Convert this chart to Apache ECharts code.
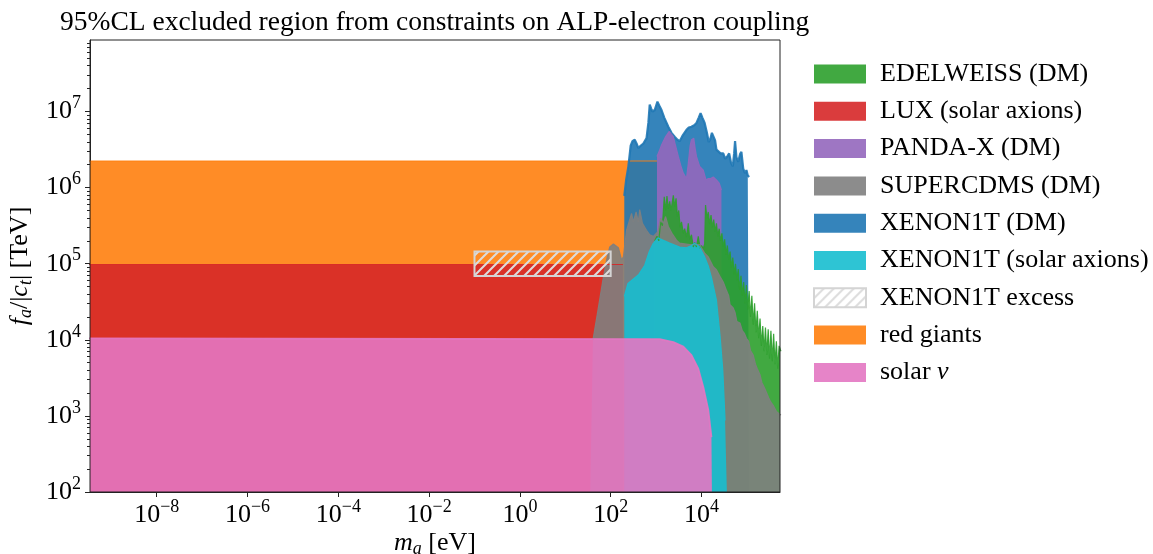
<!DOCTYPE html>
<html>
<head>
<meta charset="utf-8">
<script src="https://cdn.jsdelivr.net/npm/echarts@6/dist/echarts.min.js"></script>
<style>
  html, body { margin: 0; padding: 0; background: #fff; }
  #chart { width: 1153px; height: 554px; }
</style>
</head>
<body>
<div id="chart"></div>
<script>
  // every point is [log10(m_a / eV), log10(f_a/|c_t| / TeV)]
  const redGiants = [[-9.6, 6.35], [3.02, 6.35], [3.02, 2.0]];
  const lux = [[-9.6, 4.99], [2.27, 4.99], [2.27, 2.0]];
  const xenonDm = [[2.30, 2.0], [2.30, 5.89], [2.34, 6.10], [2.39, 6.28], [2.44, 6.55], [2.48, 6.61], [2.53, 6.63],
    [2.57, 6.58], [2.61, 6.52], [2.66, 6.55], [2.72, 6.58], [2.79, 6.65], [2.83, 6.85], [2.86, 7.09], [2.89, 7.04],
    [2.92, 7.00], [2.97, 7.02], [3.03, 7.13], [3.07, 7.08], [3.12, 7.02], [3.18, 6.92], [3.27, 6.80], [3.34, 6.72],
    [3.41, 6.67], [3.47, 6.63], [3.52, 6.61], [3.58, 6.68], [3.67, 6.76], [3.72, 6.79], [3.78, 6.80], [3.84, 6.82],
    [3.89, 6.85], [3.94, 6.92], [3.98, 6.98], [4.02, 6.92], [4.07, 6.85], [4.12, 6.72], [4.16, 6.60], [4.19, 6.63],
    [4.23, 6.72], [4.26, 6.74], [4.30, 6.62], [4.33, 6.50], [4.37, 6.52], [4.42, 6.45], [4.48, 6.45], [4.52, 6.38],
    [4.55, 6.36], [4.58, 6.42], [4.61, 6.45], [4.65, 6.33], [4.69, 6.28], [4.72, 6.45], [4.74, 6.61], [4.77, 6.40],
    [4.81, 6.34], [4.85, 6.44], [4.88, 6.47], [4.92, 6.25], [4.96, 6.19], [4.99, 6.23], [5.02, 6.16], [5.05, 6.14],
    [5.05, 2.0]];
  const pandaX = [[3.02, 2.0], [3.02, 6.41], [3.07, 6.48], [3.12, 6.56], [3.20, 6.66], [3.29, 6.74], [3.33, 6.72],
    [3.38, 6.67], [3.43, 6.55], [3.49, 6.41], [3.55, 6.28], [3.60, 6.19], [3.67, 6.12], [3.71, 6.32], [3.75, 6.55],
    [3.78, 6.63], [3.83, 6.65], [3.86, 6.52], [3.89, 6.41], [3.96, 6.28], [4.04, 6.23], [4.10, 6.10], [4.15, 6.12],
    [4.20, 6.12], [4.26, 6.14], [4.33, 6.10], [4.39, 6.06], [4.44, 5.97], [4.44, 2.0]];
  const edelweiss = [[2.97, 2.0], [2.97, 5.30], [3.02, 5.36], [3.06, 5.30], [3.10, 5.55], [3.14, 5.50], [3.18, 5.88],
    [3.21, 5.70], [3.24, 5.89], [3.27, 5.72], [3.30, 5.82], [3.33, 5.70], [3.38, 5.90], [3.41, 5.75], [3.44, 5.86],
    [3.47, 5.62], [3.50, 5.70], [3.53, 5.48], [3.56, 5.55], [3.60, 5.40], [3.63, 5.46], [3.67, 5.35], [3.71, 5.53],
    [3.74, 5.32], [3.78, 5.38], [3.82, 5.22], [3.85, 5.28], [3.89, 5.22], [3.93, 5.36], [3.97, 5.20], [4.00, 5.24],
    [4.04, 5.20], [4.07, 5.26], [4.09, 5.77], [4.12, 5.60], [4.15, 5.68], [4.18, 5.52], [4.21, 5.64], [4.24, 5.48],
    [4.27, 5.58], [4.30, 5.42], [4.33, 5.53], [4.36, 5.36], [4.39, 5.46], [4.42, 5.30], [4.45, 5.40], [4.48, 5.22],
    [4.51, 5.32], [4.54, 5.12], [4.57, 5.24], [4.60, 5.05], [4.63, 5.16], [4.66, 4.95], [4.69, 5.08], [4.72, 4.86],
    [4.75, 5.00], [4.78, 4.78], [4.81, 4.93], [4.84, 4.66], [4.87, 4.84], [4.90, 4.58], [4.93, 4.76], [4.96, 4.48],
    [4.99, 4.72], [5.02, 4.40], [5.05, 4.64], [5.08, 4.30], [5.11, 4.58], [5.14, 4.20], [5.17, 4.48], [5.20, 4.10],
    [5.23, 4.38], [5.26, 4.02], [5.29, 4.28], [5.32, 3.92], [5.35, 4.18], [5.38, 3.85], [5.41, 4.16], [5.44, 3.80],
    [5.47, 4.14], [5.50, 3.75], [5.53, 4.12], [5.56, 3.72], [5.59, 4.08], [5.62, 3.68], [5.65, 3.98], [5.68, 3.62],
    [5.71, 3.92], [5.75, 3.85]];
  const superCdms = [[1.55, 2.0], [1.61, 4.0], [1.72, 4.39], [1.83, 4.79], [1.92, 5.08], [1.98, 5.22], [2.06, 5.26],
    [2.17, 5.21], [2.24, 5.05], [2.28, 5.09], [2.35, 5.44], [2.46, 5.66], [2.50, 5.55], [2.56, 5.68], [2.61, 5.55],
    [2.64, 5.71], [2.70, 5.53], [2.79, 5.44], [2.86, 5.38], [2.94, 5.36], [3.04, 5.42], [3.10, 5.60], [3.16, 5.53],
    [3.21, 5.62], [3.27, 5.49], [3.35, 5.40], [3.45, 5.31], [3.52, 5.27], [3.74, 5.25], [3.96, 5.25], [4.07, 5.14],
    [4.15, 5.09], [4.26, 4.96], [4.33, 4.92], [4.41, 4.83], [4.48, 4.76], [4.55, 4.65], [4.60, 4.58], [4.63, 4.46],
    [4.70, 4.42], [4.74, 4.36], [4.78, 4.24], [4.85, 4.22], [4.90, 4.12], [4.95, 4.08], [4.99, 4.02], [5.04, 3.98],
    [5.08, 3.86], [5.14, 3.80], [5.19, 3.68], [5.23, 3.62], [5.29, 3.54], [5.33, 3.44], [5.38, 3.38], [5.43, 3.31],
    [5.48, 3.24], [5.53, 3.18], [5.58, 3.14], [5.65, 3.06], [5.75, 3.01]];
  const xenonSolar = [[2.30, 2.0], [2.30, 4.57], [2.38, 4.74], [2.50, 4.80], [2.62, 4.86], [2.75, 4.98], [2.85, 5.16],
    [2.93, 5.26], [3.04, 5.34], [3.15, 5.31], [3.30, 5.27], [3.52, 5.22], [3.67, 5.21], [3.78, 5.24], [3.85, 5.27],
    [3.96, 5.22], [4.07, 5.09], [4.15, 4.97], [4.22, 4.82], [4.33, 4.52], [4.41, 4.05], [4.47, 3.60], [4.52, 2.94],
    [4.56, 2.0]];
  const solarNu = [[-9.6, 4.02], [3.08, 4.01], [3.38, 3.97], [3.60, 3.91], [3.78, 3.80], [3.93, 3.62], [4.04, 3.38],
    [4.15, 3.08], [4.22, 2.72], [4.23, 2.0]];
  const xenonExcess = [[-1.0, 4.84], [2.0, 5.16]];

  const legendNames = ['EDELWEISS (DM)', 'LUX (solar axions)', 'PANDA-X (DM)', 'SUPERCDMS (DM)', 'XENON1T (DM)',
    'XENON1T (solar axions)', 'XENON1T excess', 'red giants', 'solar ν'];
  const xTicks = [-8, -6, -4, -2, 0, 2, 4];
  const yTicks = [2, 3, 4, 5, 6, 7];

  const F = 'Liberation Serif';
  const colors = {
    'EDELWEISS (DM)': '#2ca02c', 'LUX (solar axions)': '#d62728', 'PANDA-X (DM)': '#9467bd',
    'SUPERCDMS (DM)': '#7f7f7f', 'XENON1T (DM)': '#1f77b4', 'XENON1T (solar axions)': '#17becf',
    'red giants': '#ff7f0e', 'solar ν': '#e377c2'
  };

  // hatch for the excess box
  const hatch = document.createElement('canvas');
  hatch.width = 10; hatch.height = 10;
  let hc = hatch.getContext('2d');
  hc.strokeStyle = '#dcdcdc';
  hc.lineWidth = 2;
  hc.beginPath();
  hc.moveTo(-2, 12); hc.lineTo(12, -2);
  hc.moveTo(-7, 7); hc.lineTo(7, -7);
  hc.moveTo(3, 17); hc.lineTo(17, 3);
  hc.stroke();
  const hatchFill = { image: hatch, repeat: 'repeat' };

  function toVal(pts) {
    return pts.map(p => [Math.pow(10, p[0]), Math.pow(10, p[1])]);
  }

  // filled region, no stroke (the vertical drops should not be outlined)
  function band(name, pts) {
    let c = colors[name];
    return {
      name: name,
      type: 'line',
      data: toVal(pts),
      symbol: 'none',
      color: c,
      silent: true,
      lineStyle: { width: 0 },
      areaStyle: { color: c, opacity: 0.9, origin: 'start' },
      emphasis: { disabled: true }
    };
  }
  // top edge of the region only
  function edge(name, pts, lw) {
    let c = colors[name];
    return {
      type: 'line',
      data: toVal(pts.filter(p => p[1] > 2.0)),
      symbol: 'none',
      silent: true,
      lineStyle: { color: c, width: lw, opacity: 0.9 },
      emphasis: { disabled: true }
    };
  }
  function both(name, pts, lw) {
    return [band(name, pts), edge(name, pts, lw)];
  }

  let minorY = [];
  for (let n = 2; n <= 7; n++) {
    for (let k = 2; k <= 9; k++) {
      if (Math.log10(k) + n < 7.94) minorY.push(k * Math.pow(10, n));
    }
  }

  function powLabel(v) {
    let e = Math.round(Math.log10(v));
    return '{b|10}{sup|' + (e < 0 ? '\u2212' + (-e) : e) + '}';
  }
  const tickRich = {
    b: { fontFamily: F, fontSize: 26, color: '#000', lineHeight: 34 },
    sup: { fontFamily: F, fontSize: 18, color: '#000', verticalAlign: 'top', lineHeight: 18 }
  };
  const nameRich = {
    i: { fontFamily: F, fontSize: 26, fontStyle: 'italic', color: '#000', lineHeight: 30 },
    n: { fontFamily: F, fontSize: 26, color: '#000', lineHeight: 30 },
    sub: { fontFamily: F, fontSize: 18, fontStyle: 'italic', color: '#000', verticalAlign: 'bottom', lineHeight: 18 }
  };

  let chart = echarts.init(document.getElementById('chart'), null, { renderer: 'canvas' });
  chart.setOption({
    animation: false,
    backgroundColor: '#fff',
    title: {
      text: '95%CL excluded region from constraints on ALP-electron coupling',
      left: 55, top: 4,
      textStyle: { fontFamily: F, fontSize: 27.5, fontWeight: 'normal', color: '#000' }
    },
    grid: {
      left: 90, right: 373, top: 40, bottom: 62,
      outerBoundsMode: 'none',
      show: true, borderColor: '#222', borderWidth: 1, backgroundColor: 'transparent', z: 10
    },
    legend: {
      orient: 'vertical', left: 808, top: 56,
      itemWidth: 52, itemHeight: 19, itemGap: 11.3,
      selectedMode: false,
      icon: 'rect',
      itemStyle: { borderWidth: 0, opacity: 0.9 },
      textStyle: {
        fontFamily: F, fontSize: 26, color: '#000', lineHeight: 26, padding: [0, 0, 0, 9],
        rich: { i: { fontFamily: F, fontSize: 26, fontStyle: 'italic', color: '#000' } }
      },
      formatter: function (name) { return name === 'solar ν' ? 'solar {i|ν}' : name; },
      data: legendNames.map(function (n) {
        if (n === 'XENON1T excess') {
          return { name: n, icon: 'rect', itemStyle: { color: hatchFill, borderColor: '#d4d4d4', borderWidth: 2, opacity: 1 } };
        }
        return { name: n, icon: 'rect', itemStyle: { color: colors[n], opacity: 0.9, borderWidth: 0 } };
      })
    },
    xAxis: {
      type: 'log',
      min: Math.pow(10, -9.47), max: Math.pow(10, 5.73),
      name: '{i|m}{sub|a}{n| [eV]}',
      nameLocation: 'middle', nameGap: 36,
      nameMoveOverlap: false,
      nameTextStyle: { rich: nameRich },
      axisLine: { show: true, lineStyle: { color: '#222', width: 1 } },
      axisTick: { show: true, length: 5, inside: false, lineStyle: { color: '#222' }, customValues: xTicks.map(e => Math.pow(10, e)) },
      axisLabel: { margin: 6, formatter: powLabel, rich: tickRich, customValues: xTicks.map(e => Math.pow(10, e)) },
      splitLine: { show: false },
      minorTick: { show: false }
    },
    yAxis: [{
      type: 'log',
      min: 100, max: Math.pow(10, 7.94),
      name: '{i|f}{sub|a}{n|/|}{i|c}{sub|t}{n|| [TeV]}',
      nameLocation: 'middle', nameGap: 52,
      nameTextStyle: { rich: nameRich },
      axisLine: { show: true, lineStyle: { color: '#222', width: 1 } },
      axisTick: { show: true, length: 5, lineStyle: { color: '#222' }, customValues: yTicks.map(e => Math.pow(10, e)) },
      axisLabel: { margin: 9, formatter: powLabel, rich: tickRich, customValues: yTicks.map(e => Math.pow(10, e)) },
      splitLine: { show: false }
    }, {
      type: 'log',
      min: 100, max: Math.pow(10, 7.94),
      position: 'left',
      axisLine: { show: false },
      axisTick: { show: true, length: 3, lineStyle: { color: '#222' }, customValues: minorY },
      axisLabel: { show: false },
      splitLine: { show: false }
    }],
    series: [].concat(
      both('red giants', redGiants, 1.2),
      both('LUX (solar axions)', lux, 1.2),
      both('XENON1T (DM)', xenonDm, 2.2),
      both('PANDA-X (DM)', pandaX, 1.2),
      both('EDELWEISS (DM)', edelweiss, 1.2),
      both('SUPERCDMS (DM)', superCdms, 1.2),
      both('XENON1T (solar axions)', xenonSolar, 1.2),
      both('solar ν', solarNu, 1.8),
      [{
        name: 'XENON1T excess',
        type: 'line',
        data: [],
        symbol: 'none',
        silent: true,
        z: 6,
        color: '#d4d4d4',
        markArea: {
          silent: true,
          z: 12,
          itemStyle: { color: hatchFill, borderColor: '#d4d4d4', borderWidth: 2, opacity: 1 },
          data: [[
            { coord: [Math.pow(10, xenonExcess[0][0]), Math.pow(10, xenonExcess[0][1])] },
            { coord: [Math.pow(10, xenonExcess[1][0]), Math.pow(10, xenonExcess[1][1])] }
          ]]
        }
      }]
    )
  });
</script>
</body>
</html>
